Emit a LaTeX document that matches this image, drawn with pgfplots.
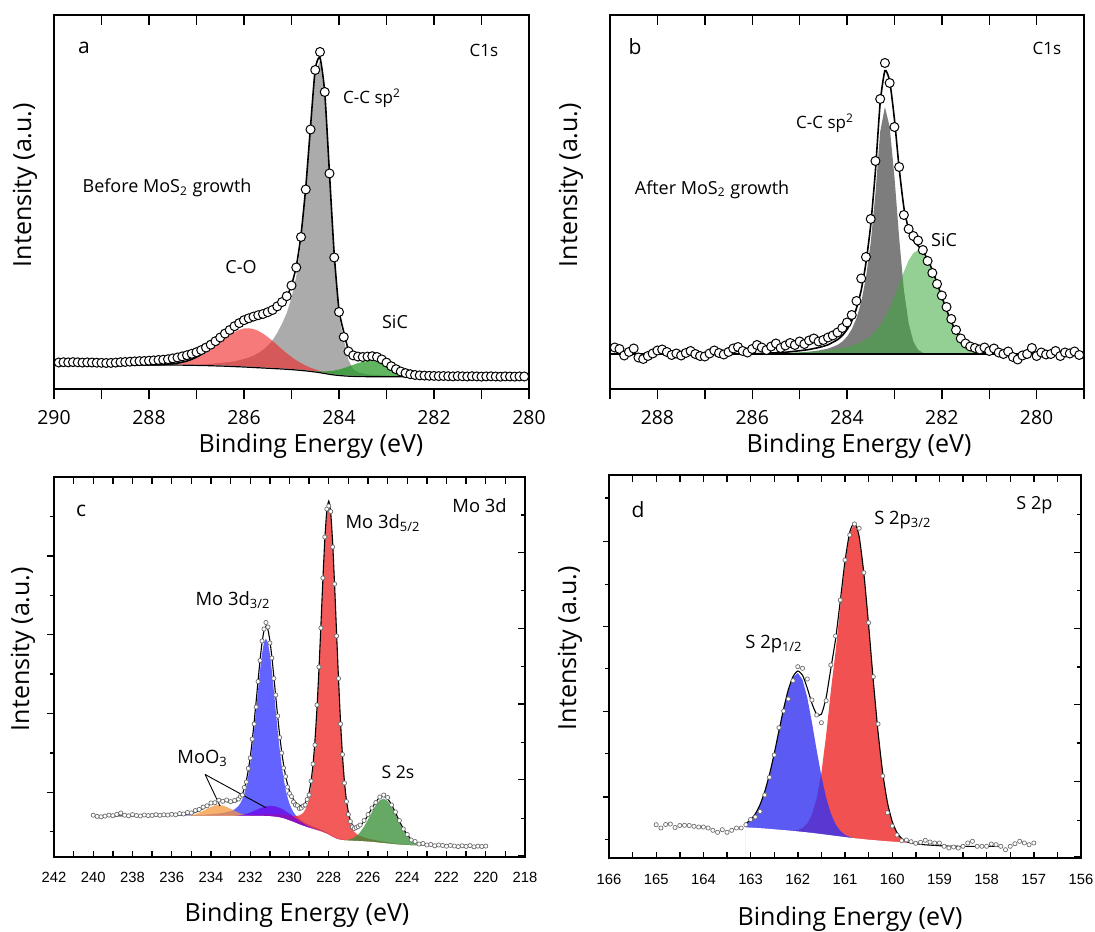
\documentclass[border=0pt]{standalone}
\usepackage{fontspec}
\setmainfont{Open Sans}
\newfontfamily\arialfont{Liberation Sans}
\usepackage{pgfplots}
\usepackage{pgfplotstable}
\pgfplotsset{compat=1.18}

\definecolor{ccgrayA}{RGB}{150,150,150}
\definecolor{coredA}{RGB}{240,40,40}
\definecolor{sicgreenA}{RGB}{30,150,30}
\definecolor{ccgrayB}{RGB}{125,125,125}
\definecolor{sicgreenB}{RGB}{60,170,60}
\definecolor{moblue}{RGB}{60,60,255}
\definecolor{mored}{RGB}{240,50,50}
\definecolor{ssgreen}{RGB}{50,140,50}
\definecolor{mooorange}{RGB}{245,150,60}
\definecolor{moopurple}{RGB}{110,0,230}
\definecolor{spblue}{RGB}{50,50,240}
\definecolor{spred}{RGB}{240,50,50}
\definecolor{ptgray}{RGB}{110,110,110}

\newcommand{\fs}[1]{\fontsize{#1}{#1}\selectfont}

\pgfplotsset{
  xpsframe/.style={scale only axis, anchor=south west, x dir=reverse,
    axis on top,
    axis line style={line width=0.9pt},
    tick style={line width=0.7pt, black},
    major tick length=3.5pt, minor tick length=3.5pt,
    /pgf/number format/assume math mode=true,
    /pgf/number format/set thousands separator={},
    ytick=\empty},
  overlayer/.style={xpsframe, axis line style={draw=none},
    xticklabels={}, yticklabels={}},
  comp/.style={draw=none, fill=#1},
  mask/.style={fill=white, draw=white, line width=0.6pt},
  fitline/.style={black, line width=0.8pt, smooth, tension=0.35},
  bigdots/.style={only marks, mark=*, mark size=2.25pt,
    mark options={draw=black, fill=white, line width=0.5pt}},
  smalldots/.style={only marks, mark=*, mark size=1.05pt,
    mark options={draw=ptgray, fill=white, line width=0.35pt}},
}

% ---------------- C1s before growth ----------------
\pgfplotstableread{
E bg co cc sic fit
290.0 24.0 24.0 24.0 24.0 24.0
289.5 24.0 24.0 24.0 24.0 24.0
289.0 24.0 24.0 24.0 24.0 24.0
288.5 24.0 24.0 24.0 24.0 24.0
288.2 24.0 24.06 24.0 24.0 24.06
288.0 24.0 24.1 24.0 24.0 24.1
287.9 24.0 24.15 24.0 24.0 24.15
287.8 24.0 24.26 24.0 24.0 24.26
287.7 24.0 24.4 24.0 24.0 24.4
287.6 24.0 24.7 24.1 24.0 24.8
287.5 23.95 25.05 24.15 23.95 25.25
287.4 23.9 25.6 24.2 23.9 25.9
287.3 23.85 26.45 24.25 23.85 26.85
287.2 23.8 27.5 24.3 23.8 28.0
287.1 23.7 29.0 24.4 23.7 29.7
287.0 23.6 30.9 24.5 23.6 31.8
286.9 23.5 33.2 24.7 23.5 34.4
286.8 23.4 36.1 25.0 23.4 37.7
286.7 23.25 39.25 25.25 23.25 41.25
286.6 23.1 42.8 25.6 23.1 45.3
286.5 22.95 46.65 26.05 22.95 49.75
286.4 22.8 50.4 26.5 22.8 54.1
286.3 22.6 53.8 27.0 22.6 58.2
286.2 22.4 56.8 27.7 22.4 62.1
286.1 22.2 59.1 28.8 22.2 65.7
286.0 22.0 60.5 30.1 22.0 68.6
285.9 21.75 60.75 31.45 21.75 70.45
285.8 21.5 60.0 33.4 21.5 71.9
285.7 21.25 58.15 35.95 21.25 72.85
285.6 21.0 55.4 39.1 21.0 73.5
285.5 20.75 51.95 43.25 20.75 74.45
285.4 20.5 48.1 48.6 20.5 76.2
285.3 20.25 43.95 56.15 20.25 79.85
285.2 20.0 39.7 65.2 20.0 84.9
285.1 19.7 35.7 75.9 19.7 91.9
285.0 19.4 32.1 91.2 19.4 103.9
284.9 19.0 28.7 112.6 19.0 122.3
284.8 18.6 25.9 146.5 18.6 153.8
284.7 18.1 23.4 195.9 18.45 201.55
284.6 17.6 21.3 257.8 18.2 262.1
284.5 17.0 19.6 316.5 17.9 320.0
284.4 16.3 18.0 328.3 17.7 331.4
284.3 15.5 16.6 293.2 17.6 296.4
284.2 14.7 15.4 211.3 17.9 215.2
284.1 14.0 14.4 129.4 18.5 134.3
284.0 13.5 13.76 72.8 19.5 79.1
283.9 13.1 13.25 49.0 20.9 57.0
283.8 12.8 12.9 28.8 22.5 38.6
283.7 12.6 12.6 19.6 24.2 31.2
283.6 12.5 12.5 17.0 25.9 30.4
283.5 12.4 12.4 15.6 27.2 30.4
283.4 12.3 12.3 14.8 27.9 30.4
283.3 12.25 12.25 14.25 28.25 30.25
283.2 12.2 12.2 13.9 27.4 29.1
283.1 12.2 12.2 13.6 25.4 26.8
283.0 12.2 12.2 13.4 22.4 23.6
282.9 12.2 12.2 13.2 19.4 20.4
282.8 12.2 12.2 13.0 16.8 17.6
282.7 12.2 12.2 12.8 14.8 15.4
282.6 12.2 12.2 12.7 13.6 14.1
282.5 12.2 12.2 12.6 12.8 13.2
282.4 12.2 12.2 12.5 12.4 12.7
282.3 12.2 12.2 12.45 12.2 12.45
282.2 12.2 12.2 12.4 12.2 12.4
282.1 12.2 12.2 12.35 12.2 12.35
282.0 12.2 12.2 12.3 12.2 12.3
281.5 12.2 12.2 12.2 12.2 12.25
281.0 12.2 12.2 12.2 12.2 12.2
280.5 12.2 12.2 12.2 12.2 12.2
280.0 12.2 12.2 12.2 12.2 12.2
}\compA

\pgfplotstableread{
E v
289.9 26.5
289.8 26.8
289.7 26.6
289.6 26.9
289.5 26.7
289.4 26.4
289.3 26.6
289.2 26.5
289.1 26.3
289.0 26.2
288.9 26.0
288.8 26.1
288.7 26.4
288.6 26.8
288.5 27.0
288.4 27.3
288.3 27.6
288.2 27.9
288.1 28.0
288.0 28.3
287.9 28.6
287.8 29.0
287.7 29.3
287.6 29.8
287.5 30.6
287.4 31.5
287.3 32.6
287.2 33.8
287.1 35.2
287.0 36.8
286.9 38.9
286.8 41.4
286.7 44.3
286.6 47.8
286.5 51.5
286.4 55.4
286.3 59.0
286.2 62.8
286.1 65.9
286.0 68.8
285.9 70.7
285.8 72.4
285.7 73.8
285.6 75.0
285.5 76.8
285.4 79.0
285.3 82.6
285.2 86.9
285.1 92.8
285.0 103.5
284.9 121.5
284.8 152.0
284.7 199.5
284.6 259.5
284.5 319.0
284.4 337.0
284.3 297.0
284.2 215.5
284.1 131.5
284.0 77.0
283.9 52.0
283.8 37.5
283.7 33.6
283.6 32.4
283.5 32.0
283.4 32.4
283.3 32.8
283.2 32.0
283.1 29.6
283.0 26.4
282.9 22.8
282.8 19.8
282.7 17.5
282.6 15.9
282.5 14.8
282.4 14.0
282.3 13.6
282.2 13.4
282.1 13.2
282.0 13.1
281.9 12.9
281.8 13.0
281.7 12.8
281.6 12.6
281.5 12.9
281.4 12.7
281.3 12.5
281.2 12.8
281.1 12.6
281.0 12.4
280.9 12.6
280.8 12.7
280.7 12.5
280.6 12.3
280.5 12.6
280.4 12.5
280.3 12.4
280.2 12.6
280.1 12.5
}\dataA

% ---------------- C1s after growth ----------------
\pgfplotstableread{
E bg cc sic fit
289.0 35 35 35 35
288.5 35 35 35 35
288.0 35 35 35 35
287.5 35 35 35 35
287.0 35 35 35 35
286.5 35 35 35 35.1
286.0 35 35 35.3 35.3
285.8 35 35.1 35.4 35.5
285.7 35 35.25 35.5 35.75
285.6 35 35.4 35.6 36.0
285.5 35 35.5 35.7 36.2
285.4 35 35.6 35.85 36.45
285.3 35 35.7 36.0 36.7
285.2 35 36.0 36.25 37.25
285.1 35 36.25 36.5 37.75
285.0 35 36.5 36.75 38.25
284.9 35 36.85 37.0 38.85
284.8 35 37.2 37.3 39.5
284.7 35 37.85 37.6 40.45
284.6 35 38.5 37.95 41.45
284.5 35 39.4 38.3 42.7
284.4 35 40.4 38.8 44.2
284.3 35 42.2 39.5 46.7
284.2 35 44.1 40.2 49.3
284.1 35 47.4 41.0 53.4
284.0 35 52.3 42.1 59.4
283.9 35 59.7 43.3 68.0
283.8 35 70.8 44.9 80.7
283.7 35 86.9 47.0 98.9
283.6 35 111.6 49.6 126.2
283.5 35 146.2 52.7 163.9
283.4 35 195.6 57.9 218.5
283.3 35 257.3 64.1 286.4
283.2 35 282.0 71.4 318.4
283.1 35 262.2 80.8 308.0
283.0 35 212.8 92.2 270.0
282.9 35 151.1 104.7 220.8
282.8 35 99.2 117.2 181.4
282.7 35 65.9 128.6 159.5
282.6 35 47.4 135.9 148.3
282.5 35 39.2 139.0 143.2
282.4 35 36.2 136.5 137.7
282.3 35 35.3 129.5 129.8
282.2 35 35 118.9 118.9
282.1 35 35 106.0 106.0
282.0 35 35 92.3 92.3
281.9 35 35 79.1 79.1
281.8 35 35 67.3 67.3
281.7 35 35 57.7 57.7
281.6 35 35 50.1 50.1
281.5 35 35 44.6 44.6
281.4 35 35 40.8 40.8
281.3 35 35 38.3 38.3
281.2 35 35 36.9 36.9
281.1 35 35 35.9 35.9
281.0 35 35 35.5 35.5
280.9 35 35 35.2 35.2
280.8 35 35 35 35
280.5 35 35 35 35
280.0 35 35 35 35
279.5 35 35 35 35
279.0 35 35 35 35
}\compB

\pgfplotstableread{
E v
288.9 41.5
288.8 40.0
288.7 33.5
288.6 37.0
288.5 40.5
288.4 31.5
288.3 30.0
288.2 33.0
288.1 35.5
288.0 38.5
287.9 39.5
287.8 37.0
287.7 34.0
287.6 35.5
287.5 33.5
287.4 36.0
287.3 38.0
287.2 35.0
287.1 33.0
287.0 32.5
286.9 35.5
286.8 38.5
286.7 36.0
286.6 34.5
286.5 37.0
286.4 40.5
286.3 42.0
286.2 38.0
286.1 36.5
286.0 40.0
285.9 44.0
285.8 41.5
285.7 39.0
285.6 42.5
285.5 45.5
285.4 41.0
285.3 43.5
285.2 46.0
285.1 44.0
285.0 47.5
284.9 45.0
284.8 48.5
284.7 50.5
284.6 47.5
284.5 49.0
284.4 51.5
284.3 53.5
284.2 56.5
284.1 61.0
284.0 66.5
283.9 74.0
283.8 88.0
283.7 110.5
283.6 132.0
283.5 170.0
283.4 228.0
283.3 290.0
283.2 326.0
283.1 306.0
283.0 262.0
282.9 222.0
282.8 174.0
282.7 160.0
282.6 153.0
282.5 148.5
282.4 139.0
282.3 128.0
282.2 116.0
282.1 105.0
282.0 93.5
281.9 82.0
281.8 70.0
281.7 59.0
281.6 50.5
281.5 45.5
281.4 42.5
281.3 41.0
281.2 39.5
281.1 41.5
281.0 38.0
280.9 40.5
280.8 36.5
280.7 35.0
280.6 37.5
280.5 32.0
280.4 29.5
280.3 33.5
280.2 35.0
280.1 41.0
280.0 33.0
279.9 36.5
279.8 34.5
279.7 35.0
279.6 38.0
279.5 33.0
279.4 36.5
279.3 35.5
279.2 37.5
279.1 34.0
}\dataB

% ---------------- Mo 3d ----------------
\pgfplotstableread{
E bg o p b r s fit
240.0 40.5 40.5 40.5 40.7 40.7 40.5 40.9
239.5 40.5 40.5 40.5 40.8 40.7 40.5 40.9
239.0 40.5 40.5 40.5 40.8 40.7 40.5 41.0
238.5 40.5 40.5 40.5 40.9 40.7 40.5 41.1
238.0 40.5 40.5 40.5 40.9 40.7 40.5 41.1
237.5 40.5 40.5 40.5 41.0 40.8 40.5 41.2
237.0 40.5 40.5 40.5 41.0 40.8 40.5 41.3
236.5 40.5 40.5 40.5 41.1 40.8 40.5 41.5
236.0 40.5 40.5 40.5 41.3 40.9 40.5 41.6
235.8 40.5 40.6 40.5 41.4 40.9 40.5 41.8
235.6 40.5 40.6 40.5 41.4 40.9 40.5 41.9
235.4 40.5 40.8 40.5 41.5 40.9 40.5 42.2
235.2 40.5 41.2 40.5 41.6 41.0 40.5 42.8
235.0 40.5 41.8 40.5 41.7 41.0 40.5 43.5
234.8 40.5 42.8 40.5 41.8 41.0 40.5 44.6
234.6 40.5 44.3 40.5 42.0 41.1 40.5 46.4
234.4 40.5 46.1 40.5 42.2 41.1 40.5 48.4
234.2 40.5 48.2 40.5 42.5 41.1 40.5 50.8
234.0 40.5 50.1 40.5 42.8 41.2 40.5 53.1
233.8 40.5 51.5 40.6 43.2 41.2 40.5 54.9
233.6 40.5 52.0 40.6 43.5 41.3 40.5 55.8
233.4 40.5 51.5 40.6 44.1 41.3 40.5 56.0
233.2 40.5 50.1 40.6 44.8 41.4 40.5 55.4
233.0 40.5 48.2 40.8 45.8 41.4 40.5 54.7
232.8 40.5 46.1 41.0 47.6 41.5 40.5 54.7
232.6 40.5 44.3 41.5 51.0 41.6 40.5 56.9
232.5 40.5 43.5 41.8 53.9 41.6 40.5 59.3
232.4 40.5 42.8 42.2 57.9 41.7 40.5 63.1
232.3 40.5 42.3 42.6 63.5 41.7 40.5 68.6
232.2 40.5 41.8 43.2 71.1 41.8 40.5 76.4
232.1 40.5 41.4 43.8 81.3 41.8 40.5 86.8
232.0 40.5 41.2 44.5 93.9 41.9 40.5 100.0
231.9 40.5 41.0 45.3 109.4 42.0 40.5 116.2
231.8 40.5 40.8 46.1 127.4 42.1 40.5 135.4
231.7 40.5 40.7 47.0 147.1 42.2 40.5 155.5
231.6 40.5 40.6 47.8 167.6 42.3 40.5 176.8
231.5 40.5 40.5 48.7 187.0 42.4 40.5 197.1
231.4 40.5 40.5 49.4 203.4 42.5 40.5 214.3
231.3 40.4 40.4 50.0 214.5 42.5 40.4 226.2
231.2 40.4 40.4 50.6 218.4 42.6 40.4 230.8
231.1 40.3 40.3 50.9 214.4 42.7 40.3 227.4
231.0 40.2 40.2 51.1 203.1 42.7 40.2 216.5
230.9 40.0 40.0 51.0 186.5 42.7 40.0 200.2
230.8 39.8 39.8 50.75 166.9 42.7 39.8 180.75
230.7 39.6 39.6 50.4 146.2 42.7 39.6 160.1
230.6 39.3 39.3 49.8 126.2 42.6 39.3 140.0
230.5 39.0 39.0 49.2 107.9 42.6 39.0 121.7
230.4 38.5 38.5 48.2 91.9 42.4 38.5 105.5
230.3 38.0 38.0 47.2 78.8 42.2 38.0 92.2
230.2 37.3 37.3 45.9 67.9 41.9 37.3 81.1
230.1 36.6 36.6 44.6 59.6 41.6 36.6 72.6
230.0 35.9 35.9 43.3 53.3 41.4 35.9 66.2
229.9 35.2 35.2 41.9 48.6 41.2 35.2 61.3
229.8 34.4 34.4 40.4 44.9 41.1 34.4 57.6
229.7 33.6 33.6 39.0 42.1 41.1 33.6 55.0
229.6 32.8 32.8 37.6 39.9 41.1 32.8 53.0
229.5 32.0 32.0 36.1 38.1 41.6 32.0 51.8
229.4 31.3 31.3 34.9 36.6 42.6 31.3 51.5
229.3 30.6 30.6 33.7 35.4 44.2 30.6 52.1
229.2 29.9 29.9 32.5 34.2 47.2 29.9 54.1
229.1 29.2 29.2 31.4 33.1 51.8 29.2 57.9
229.0 28.6 28.6 30.4 32.2 59.2 28.6 64.6
228.9 28.0 28.0 29.5 31.3 71.2 28.0 76.0
228.8 27.4 27.4 28.6 30.4 88.6 27.4 92.8
228.7 26.8 26.8 27.8 29.7 113.3 26.8 117.2
228.6 26.2 26.2 27.0 28.9 145.3 26.2 148.85
228.5 25.6 25.6 26.2 28.1 184.3 25.6 187.4
228.4 25.0 25.0 25.5 27.3 228.9 25.0 231.7
228.3 24.2 24.2 24.6 26.4 274.3 24.2 276.9
228.2 23.4 23.4 23.7 25.4 315.4 23.4 317.7
228.1 22.6 22.6 22.6 24.5 344.2 22.6 346.1
228.0 21.6 21.6 21.6 23.4 354.2 21.6 356.0
227.9 20.5 20.5 20.5 22.2 342.8 20.5 344.5
227.8 19.4 19.4 19.4 21.0 312.4 19.4 314.0
227.7 18.4 18.4 18.4 19.8 269.8 18.5 271.2
227.6 17.6 17.6 17.6 19.0 222.1 17.7 223.6
227.5 17.0 17.0 17.0 18.3 175.7 17.2 177.2
227.4 16.6 16.6 16.6 17.8 134.0 16.8 135.4
227.3 16.3 16.3 16.3 17.5 99.8 16.7 101.4
227.2 16.1 16.1 16.1 17.2 73.6 16.7 75.3
227.1 16.0 16.0 16.0 17.1 54.9 16.9 56.9
227.0 15.9 15.9 15.9 16.9 42.2 17.3 44.6
226.9 15.8 15.8 15.8 16.8 33.8 17.8 36.8
226.8 15.7 15.7 15.7 16.6 28.7 18.5 32.4
226.7 15.6 15.6 15.6 16.5 25.2 19.6 30.1
226.6 15.5 15.5 15.5 16.4 23.5 20.9 29.8
226.5 15.4 15.4 15.4 16.2 21.7 22.6 29.7
226.4 15.3 15.3 15.3 16.1 21.0 24.8 31.3
226.2 15.1 15.1 15.1 15.8 19.6 30.4 35.6
226.0 14.8 14.8 14.8 15.5 18.5 37.3 41.7
225.8 14.5 14.5 14.5 15.1 17.6 45.0 48.7
225.6 14.1 14.1 14.1 14.7 16.7 52.0 55.2
225.4 13.7 13.7 13.7 14.3 15.9 56.8 59.6
225.2 13.3 13.3 13.3 13.8 15.2 58.3 60.7
225.0 12.9 12.9 12.9 13.4 14.6 56.0 58.2
224.8 12.5 12.5 12.5 13.0 14.0 50.4 52.4
224.6 12.1 12.1 12.1 12.5 13.4 42.6 44.3
224.4 11.8 11.8 11.8 12.2 13.0 34.3 35.9
224.2 11.5 11.5 11.5 11.9 12.6 26.8 28.3
224.0 11.3 11.3 11.3 11.7 12.3 20.8 22.2
223.8 11.1 11.1 11.1 11.4 12.0 16.5 17.7
223.6 11.0 11.0 11.0 11.3 11.8 13.8 14.9
223.4 10.9 10.9 10.9 11.2 11.7 12.3 13.4
223.2 10.8 10.8 10.8 11.1 11.5 11.4 12.4
223.0 10.7 10.7 10.7 11.0 11.4 10.9 11.9
222.8 10.7 10.7 10.7 11.0 11.3 10.8 11.7
222.6 10.6 10.6 10.6 10.9 11.2 10.6 11.4
222.4 10.6 10.6 10.6 10.9 11.1 10.6 11.4
222.2 10.5 10.5 10.5 10.7 11.0 10.5 11.2
222.0 10.5 10.5 10.5 10.7 11.0 10.5 11.2
221.5 10.4 10.4 10.4 10.6 10.8 10.4 11.0
221.0 10.4 10.4 10.4 10.6 10.8 10.4 11.0
220.5 10.3 10.3 10.3 10.5 10.6 10.3 10.8
220.0 10.3 10.3 10.3 10.5 10.6 10.3 10.8
}\compC

\pgfplotstableread{
E v
240.0 41.8
239.8 40.6
239.6 40.2
239.4 40.9
239.2 41.9
239.0 41.3
238.8 42.6
238.6 44.0
238.4 41.8
238.2 41.2
238.0 42.4
237.8 41.5
237.6 41.0
237.4 42.0
237.2 41.4
237.0 41.6
236.8 42.3
236.6 41.7
236.4 42.2
236.2 41.9
236.0 42.7
235.8 42.2
235.6 43.4
235.4 43.0
235.2 44.5
235.0 44.1
234.8 46.5
234.6 47.6
234.4 49.9
234.2 51.2
234.0 54.0
233.8 54.3
233.6 56.8
233.4 55.7
233.2 57.0
233.0 55.4
232.8 56.5
232.6 58.0
232.5 60.5
232.4 62.0
232.3 69.5
232.2 75.0
232.1 88.5
232.0 99.0
231.9 118.0
231.8 133.0
231.7 150.0
231.6 175.5
231.5 196.5
231.4 216.0
231.3 228.0
231.2 234.5
231.1 230.0
231.0 214.0
230.9 199.0
230.8 178.5
230.7 162.0
230.6 141.0
230.5 119.5
230.4 104.0
230.3 89.0
230.2 80.5
230.1 70.0
230.0 63.5
229.9 60.5
229.8 55.0
229.7 52.0
229.6 51.5
229.5 48.5
229.4 49.0
229.3 51.0
229.2 52.0
229.1 57.5
229.0 62.0
228.9 76.0
228.8 93.0
228.7 112.0
228.6 152.0
228.5 190.0
228.4 229.0
228.3 279.0
228.2 320.0
228.1 348.0
228.0 351.0
227.9 345.5
227.8 310.0
227.7 273.0
227.6 221.0
227.5 178.5
227.4 133.0
227.3 102.5
227.2 74.0
227.1 55.5
227.0 42.5
226.9 35.5
226.8 30.0
226.7 28.5
226.6 29.5
226.5 30.5
226.4 32.0
226.2 36.5
226.0 42.5
225.8 49.0
225.6 54.5
225.4 60.0
225.2 62.0
225.0 59.5
224.8 52.0
224.6 45.0
224.4 36.5
224.2 28.0
224.0 22.5
223.8 17.0
223.6 15.5
223.4 13.0
223.2 13.5
223.0 12.0
222.8 12.5
222.6 11.2
222.4 12.0
222.2 11.5
222.0 10.8
221.8 11.6
221.6 11.0
221.4 10.4
221.2 11.2
221.0 10.6
220.8 11.4
220.6 10.2
220.4 10.9
220.2 10.5
220.0 10.9
}\dataC

% ---------------- S 2p ----------------
\pgfplotstableread{
E bg b r fit
163.1 30.0 34.5 30.0 34.5
163.0 29.8 38.2 29.8 38.2
162.9 29.5 44.2 29.5 44.2
162.8 29.2 53.4 29.2 53.4
162.7 28.9 66.5 28.9 66.5
162.6 28.5 83.7 28.5 83.7
162.5 28.1 104.3 28.1 104.3
162.4 27.7 127.1 27.7 127.1
162.3 27.3 149.3 27.3 149.3
162.2 26.9 168.2 27.2 168.5
162.1 26.4 180.8 27.2 181.6
162.0 26.0 185.0 28.0 187.0
161.9 25.5 178.3 30.0 182.8
161.8 25.0 160.5 34.5 170.0
161.7 24.5 135.4 43.5 154.4
161.6 23.9 107.7 59.9 143.7
161.5 23.3 81.8 85.3 143.8
161.4 22.7 60.4 122.7 160.4
161.3 22.1 44.5 167.1 189.5
161.2 21.5 33.8 206.5 218.8
161.1 20.9 27.1 250.9 257.1
161.0 20.3 23.2 294.1 297.0
160.9 19.7 21.0 324.4 325.7
160.8 19.2 19.7 335.0 335.5
160.7 18.7 18.9 321.3 321.5
160.6 18.2 18.2 284.5 284.5
160.5 17.7 17.7 233.1 233.1
160.4 17.3 17.3 177.1 177.1
160.3 16.9 16.9 125.9 125.9
160.2 16.5 16.5 84.7 84.7
160.1 16.1 16.1 55.3 55.3
160.0 15.8 15.8 36.5 36.5
159.9 15.4 15.4 25.5 25.5
159.8 15.1 15.1 19.6 19.6
159.7 14.7 14.7 16.5 16.5
159.6 14.4 14.4 15.1 15.1
159.5 14.0 14.0 14.0 14.2
159.4 13.6 13.6 13.6 13.7
159.3 13.2 13.2 13.2 13.2
159.2 12.9 12.9 12.9 12.9
159.1 12.6 12.6 12.6 12.6
159.0 12.3 12.3 12.3 12.3
158.9 12.1 12.1 12.1 12.1
158.8 11.9 11.9 11.9 11.9
158.7 11.8 11.8 11.8 11.8
158.6 11.7 11.7 11.7 11.7
158.4 11.7 11.7 11.7 11.7
158.2 11.7 11.7 11.7 11.7
158.0 11.7 11.7 11.7 11.7
157.7 11.7 11.7 11.7 11.7
}\compD

\pgfplotstableread{
E v
165.0 33.3
164.9 30.0
164.8 33.5
164.7 34.0
164.6 30.5
164.5 32.5
164.4 32.7
164.3 32.5
164.2 31.7
164.1 31.0
164.0 31.0
163.9 30.0
163.8 27.7
163.7 25.7
163.6 28.3
163.5 25.7
163.4 27.7
163.3 30.0
163.2 30.0
163.1 33.3
163.0 38.5
162.9 41.0
162.8 46.5
162.7 63.0
162.6 80.7
162.5 103.0
162.4 130.3
162.3 147.0
162.2 159.0
162.1 177.3
162.0 191.3
161.9 189.7
161.8 179.0
161.7 158.0
161.6 143.0
161.5 135.3
161.4 157.3
161.3 193.0
161.2 222.0
161.1 258.0
161.0 298.0
160.9 323.0
160.8 334.0
160.7 329.7
160.6 285.3
160.5 235.3
160.4 181.3
160.3 134.0
160.2 82.0
160.1 45.3
160.0 32.0
159.9 23.0
159.8 17.3
159.7 18.0
159.6 16.3
159.5 14.7
159.4 15.7
159.3 17.7
159.2 16.0
159.1 15.0
159.0 15.0
158.9 11.7
158.8 10.0
158.7 11.0
158.6 10.0
158.5 11.7
158.4 15.0
158.3 16.7
158.2 11.7
158.1 11.7
158.0 11.7
157.9 14.0
157.8 13.3
157.7 11.7
157.6 8.3
157.5 11.7
157.4 14.3
157.3 16.7
157.2 15.0
157.1 13.3
157.0 15.0
}\dataD

\begin{document}
\begin{tikzpicture}
\path[use as bounding box] (0,0) rectangle (547.5pt,465.5pt);

% ===== (a) C1s before MoS2 growth =====
\begin{axis}[xpsframe, at={(27pt,271pt)}, width=237.5pt, height=187pt,
  xmin=280, xmax=290, ymin=0, ymax=374,
  xtick={280,282,...,290}, minor xtick={281,283,...,289},
  major tick length=5.2pt, minor tick length=5.2pt,
  xtick pos=left, tick align=outside,
  xticklabel style={font=\fs{9.7}, yshift=-1.8pt}]
  \addplot[comp=ccgrayA, fill opacity=0.8] table[x=E,y=cc]{\compA} \closedcycle;
  \addplot[comp=coredA, fill opacity=0.62] table[x=E,y=co]{\compA} \closedcycle;
  \addplot[comp=sicgreenA, fill opacity=0.7] table[x=E,y=sic]{\compA} \closedcycle;
  \addplot[mask] table[x=E,y=bg]{\compA} \closedcycle;
  \addplot[black, line width=0.6pt] table[x=E,y=bg]{\compA};
  \addplot[fitline] table[x=E,y=fit]{\compA};
  \addplot[bigdots] table[x=E,y=v]{\dataA};
\end{axis}
\begin{axis}[overlayer, at={(27pt,271pt)}, width=237.5pt, height=187pt,
  xmin=280, xmax=290, ymin=0, ymax=374,
  xtick={280,282,...,290}, minor xtick={281,283,...,289},
  major tick length=5pt, minor tick length=5pt,
  xtick pos=right, tick align=inside]
  \addplot[draw=none] table[x=E,y=bg]{\compA};
\end{axis}

% ===== (b) C1s after MoS2 growth =====
\begin{axis}[xpsframe, at={(305pt,271pt)}, width=237pt, height=187pt,
  xmin=279, xmax=289, ymin=0, ymax=374,
  xtick={280,282,...,288}, minor xtick={279,281,...,289},
  major tick length=5.2pt, minor tick length=5.2pt,
  xtick pos=left, tick align=outside,
  xticklabel style={font=\fs{9.7}, yshift=-1.8pt}]
  \addplot[comp=ccgrayB] table[x=E,y=cc]{\compB} \closedcycle;
  \addplot[comp=sicgreenB, fill opacity=0.55] table[x=E,y=sic]{\compB} \closedcycle;
  \addplot[mask] table[x=E,y=bg]{\compB} \closedcycle;
  \addplot[black, line width=0.6pt] table[x=E,y=bg]{\compB};
  \addplot[fitline] table[x=E,y=fit]{\compB};
  \addplot[bigdots] table[x=E,y=v]{\dataB};
\end{axis}
\begin{axis}[overlayer, at={(305pt,271pt)}, width=237pt, height=187pt,
  xmin=279, xmax=289, ymin=0, ymax=374,
  xtick={280,282,...,288}, minor xtick={279,281,...,289},
  major tick length=5pt, minor tick length=5pt,
  xtick pos=right, tick align=inside]
  \addplot[draw=none] table[x=E,y=bg]{\compB};
\end{axis}

% ===== (c) Mo 3d =====
\begin{axis}[xpsframe, at={(27pt,37pt)}, width=235.5pt, height=190pt,
  xmin=218, xmax=242, ymin=0, ymax=380,
  xtick={218,220,...,242}, minor xtick={219,221,...,241},
  xtick pos=left, tick align=inside,
  major tick length=2.8pt, minor tick length=2.8pt,
  xticklabel style={font=\arialfont\fs{7.4}, yshift=-4pt}]
  \addplot[comp=moblue, fill opacity=0.8] table[x=E,y=b]{\compC} \closedcycle;
  \addplot[comp=mored, fill opacity=0.8] table[x=E,y=r]{\compC} \closedcycle;
  \addplot[comp=ssgreen, fill opacity=0.75] table[x=E,y=s]{\compC} \closedcycle;
  \addplot[comp=mooorange, fill opacity=0.75] table[x=E,y=o]{\compC} \closedcycle;
  \addplot[comp=moopurple, fill opacity=0.7] table[x=E,y=p]{\compC} \closedcycle;
  \addplot[mask] table[x=E,y=bg]{\compC} \closedcycle;
  \addplot[black, line width=0.55pt, smooth, tension=0.35] table[x=E,y=fit]{\compC};
  \addplot[smalldots] table[x=E,y=v]{\dataC};
  \draw[black, line width=0.45pt] (axis cs:234.3,82.5) -- (axis cs:233.54,51);
  \draw[black, line width=0.45pt] (axis cs:234.3,82.5) -- (axis cs:231.2,49.3);
\end{axis}
\begin{axis}[overlayer, at={(27pt,37pt)}, width=235.5pt, height=190pt,
  xmin=218, xmax=242, ymin=0, ymax=380,
  xtick={218,219,...,242},
  ytick={1.7,77.7,153,228.7,304.3}, minor ytick={38.7,114.3,190.3,266.3,342},
  major tick length=3.6pt, minor tick length=2pt,
  xtick pos=right, ytick pos=right, tick align=inside]
  \addplot[draw=none] table[x=E,y=bg]{\compC};
\end{axis}
\begin{axis}[overlayer, at={(27pt,37pt)}, width=235.5pt, height=190pt,
  xmin=218, xmax=242, ymin=0, ymax=380,
  xtick=\empty,
  ytick={64.7,143.7,222.3,301}, minor ytick={25.3,104.2,183,261.7,340.4},
  major tick length=3.5pt, minor tick length=2pt,
  ytick pos=left, tick align=outside]
  \addplot[draw=none] table[x=E,y=bg]{\compC};
\end{axis}

% ===== (d) S 2p =====
\begin{axis}[xpsframe, at={(304.5pt,36.5pt)}, width=236pt, height=191.5pt,
  xmin=156, xmax=166, ymin=0, ymax=383,
  xtick={156,157,...,166}, minor xtick={156.5,157.5,...,165.5},
  xtick pos=left, tick align=inside,
  major tick length=2.8pt, minor tick length=2.8pt,
  xticklabel style={font=\arialfont\fs{7.4}, yshift=-4.5pt}]
  \addplot[comp=spred, fill opacity=0.85] table[x=E,y=r]{\compD} \closedcycle;
  \addplot[comp=spblue, fill opacity=0.8] table[x=E,y=b]{\compD} \closedcycle;
  \addplot[mask] table[x=E,y=bg]{\compD} \closedcycle;
  \addplot[black, line width=0.55pt, smooth, tension=0.35] table[x=E,y=fit]{\compD};
  \addplot[smalldots] table[x=E,y=v]{\dataD};
\end{axis}
\begin{axis}[overlayer, at={(304.5pt,36.5pt)}, width=236pt, height=191.5pt,
  xmin=156, xmax=166, ymin=0, ymax=383,
  xtick={156,156.5,...,166},
  ytick={1.7,76.7,153.3,229.3,305.7}, minor ytick={37.7,115,191,267.3,343.3},
  major tick length=3.6pt, minor tick length=2pt,
  xtick pos=right, ytick pos=right, tick align=inside]
  \addplot[draw=none] table[x=E,y=bg]{\compD};
\end{axis}
\begin{axis}[overlayer, at={(304.5pt,36.5pt)}, width=236pt, height=191.5pt,
  xmin=156, xmax=166, ymin=0, ymax=383,
  xtick=\empty,
  ytick={61,146.7,231.7,316.7}, minor ytick={18.3,104.3,189.3,273.3,360},
  major tick length=3.2pt, minor tick length=2pt,
  ytick pos=left, tick align=outside]
  \addplot[draw=none] table[x=E,y=bg]{\compD};
\end{axis}

% ===== labels =====
\begin{scope}[every node/.style={inner sep=0pt}]
  % axis titles
  \node[font=\fs{12.5}] at (155.5pt,242.5pt) {Binding Energy (eV)};
  \node[font=\fs{12.5}] at (429.5pt,242.5pt) {Binding Energy (eV)};
  \node[font=\fs{12.5}] at (148.5pt,8pt) {Binding Energy (eV)};
  \node[font=\fs{12.5}] at (425pt,6pt) {Binding Energy (eV)};
  \node[font=\fs{12.5}, rotate=90] at (12.5pt,373pt) {Intensity (a.u.)};
  \node[font=\fs{12.5}, rotate=90] at (285.5pt,373pt) {Intensity (a.u.)};
  \node[font=\fs{12.5}, rotate=90] at (11.5pt,141pt) {Intensity (a.u.)};
  \node[font=\fs{12.5}, rotate=90] at (285pt,141.5pt) {Intensity (a.u.)};
  % panel (a)
  \node[font=\fs{10.5}] at (42pt,441.5pt) {a};
  \node[font=\fs{8.5}] at (242pt,440.5pt) {C1s};
  \node[font=\fs{8.5}] at (186pt,416.5pt) {C-C sp\textsuperscript{2}};
  \node[font=\fs{9}] at (83.5pt,371.5pt) {Before MoS\textsubscript{2} growth};
  \node[font=\fs{9}] at (120.5pt,332pt) {C-O};
  \node[font=\fs{9}] at (197.5pt,304.5pt) {SiC};
  % panel (b)
  \node[font=\fs{10.5}] at (317.5pt,442pt) {b};
  \node[font=\fs{8.5}] at (523.5pt,441.5pt) {C1s};
  \node[font=\fs{8.5}] at (412.5pt,403.75pt) {C-C sp\textsuperscript{2}};
  \node[font=\fs{9}] at (356pt,370.75pt) {After MoS\textsubscript{2} growth};
  \node[font=\fs{9}] at (472pt,345.5pt) {SiC};
  % panel (c)
  \node[font=\fs{10.5}] at (40.5pt,210.2pt) {c};
  \node[font=\fs{9.2}] at (239.8pt,212.75pt) {Mo 3d};
  \node[font=\fs{9.2}] at (191.5pt,204pt) {Mo 3d\textsubscript{5/2}};
  \node[font=\fs{9.2}] at (116.5pt,165.5pt) {Mo 3d\textsubscript{3/2}};
  \node[font=\fs{9.2}] at (101.3pt,86.5pt) {MoO\textsubscript{3}};
  \node[font=\fs{8.8}] at (199pt,79.6pt) {S 2s};
  % panel (d)
  \node[font=\fs{10.5}] at (319pt,210.5pt) {d};
  \node[font=\fs{9}] at (517.2pt,212.75pt) {S 2p};
  \node[font=\fs{9.2}] at (451.4pt,205.5pt) {S 2p\textsubscript{3/2}};
  \node[font=\fs{9.2}] at (387pt,143.5pt) {S 2p\textsubscript{1/2}};
\end{scope}
\end{tikzpicture}
\end{document}
